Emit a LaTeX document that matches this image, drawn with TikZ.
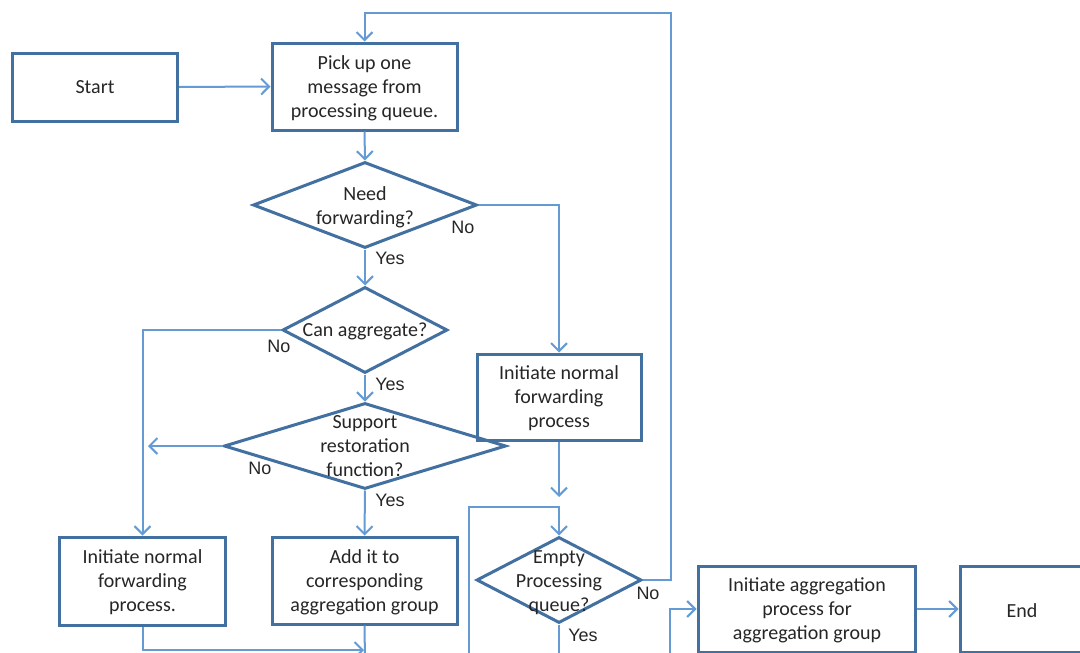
\documentclass[tikz,border=0pt]{standalone}
\usepackage{fontspec}
\setmainfont{Carlito}
\newfontfamily\lblfont{Liberation Sans}
\usetikzlibrary{shapes.geometric,arrows.meta}
\definecolor{boxc}{RGB}{66,112,160}
\definecolor{linec}{RGB}{100,155,213}
\definecolor{txtc}{RGB}{38,38,38}
\tikzset{
  box/.style={draw=boxc,line width=3pt,rectangle,inner sep=0pt},
  dia/.style={draw=boxc,line width=3pt,diamond,inner sep=0pt},
  txt/.style={align=center,text=txtc,font=\fontsize{20}{24}\selectfont,inner sep=0pt},
  lbl/.style={text=txtc,font=\lblfont\fontsize{18}{20}\selectfont,inner sep=0pt},
  conn/.style={draw=linec,line width=2pt},
  arr/.style={conn,-{Straight Barb[length=8pt,width=16pt,line width=2pt]}},
}
\begin{document}
\begin{tikzpicture}[x=1pt,y=-1pt]
\useasboundingbox (0,0) rectangle (1080,653);
\clip (0,0) rectangle (1080,653);
\fill[white] (0,0) rectangle (1080,653);
% boxes
\node[box,minimum width=165pt,minimum height=68pt] (start) at (95,87) {};
\node[txt] (startT) at (start) {Start};
\node[box,minimum width=185pt,minimum height=87pt] (pick) at (364.5,86.5) {};
\node[txt] (pickT) at (364.5,88) {Pick up one\\message from\\processing queue.};
\node[box,minimum width=164pt,minimum height=86pt] (initR) at (559,397) {};
\node[txt] (initRT) at (559,398) {Initiate normal\\forwarding\\process};
\node[box,minimum width=166pt,minimum height=88pt] (initL) at (142.5,581) {};
\node[txt] (initLT) at (142.5,582) {Initiate normal\\forwarding\\process.};
\node[box,minimum width=185pt,minimum height=87pt] (add) at (364.5,580.5) {};
\node[txt] (addT) at (364.5,582) {Add it to\\corresponding\\aggregation group};
\node[box,minimum width=217pt,minimum height=86pt] (aggr) at (806.5,609) {};
\node[txt] (aggrT) at (807,610) {Initiate aggregation\\process for\\aggregation group};
\node[box,minimum width=130pt,minimum height=86pt] (end) at (1025,609) {};
\node[txt] (endT) at (1022,611) {End};
% diamonds
\node[dia,minimum width=224pt,minimum height=86pt] (need) at (365,205) {};
\node[txt] (needT) at (365,207) {Need\\forwarding?};
\node[dia,minimum width=165pt,minimum height=86pt] (canagg) at (365,330) {};
\node[txt] (canaggT) at (365,331) {Can aggregate?};
\node[dia,minimum width=282pt,minimum height=86pt] (support) at (365,446) {};
\node[txt] (supportT) at (365,446) {Support\\restoration\\function?};
\node[dia,minimum width=165pt,minimum height=86pt] (empty) at (559,580) {};
\node[txt] (emptyT) at (559,583) {Empty\\Processing\\queue?};
% coordinates
\coordinate (supL) at (148,446);
\coordinate (initRend) at (559,497);
\coordinate (loopS) at (469,660);
\coordinate (emptyS) at (559,660);
\coordinate (aggrS) at (670,660);
\coordinate (addS) at (365,660);
\coordinate (botJ) at (364,650);
% connectors
\draw[arr] (start.east) -- (pick.west);
\draw[arr] (empty.east) -- (671,580) -- (671,13) -- (pick.north |- 0,13) -- (pick.north);
\draw[arr] (pick.south) -- (need.north);
\draw[arr] (need.east) -- (initR.north |- need.east) -- (initR.north);
\draw[arr] (need.south) -- (canagg.north);
\draw[arr] (canagg.west) -- (initL.north |- canagg.west) -- (initL.north);
\draw[arr] (canagg.south) -- (support.north);
\draw[arr] (support.west) -- (supL);
\draw[arr] (support.south) -- (add.north);
\draw[arr] (initR.south) -- (initRend);
\draw[arr] (loopS) -- (469,507) -- (empty.north |- 0,507) -- (empty.north);
\draw[conn] (empty.south) -- (emptyS);
\draw[arr] (initL.south) -- (initL.south |- botJ) -- (botJ);
\draw[conn] (add.south) -- (addS);
\draw[arr] (aggrS) -- (aggrS |- aggr.west) -- (aggr.west);
\draw[arr] (aggr.east) -- (end.west);
% labels
\node[lbl] (l1) at (463,227) {No};
\node[lbl] (l2) at (390,258) {Yes};
\node[lbl] (l3) at (279,346) {No};
\node[lbl] (l4) at (390,384) {Yes};
\node[lbl] (l5) at (260,468) {No};
\node[lbl] (l6) at (390,500) {Yes};
\node[lbl] (l7) at (648,593) {No};
\node[lbl] (l8) at (583,635) {Yes};
\end{tikzpicture}
\end{document}
